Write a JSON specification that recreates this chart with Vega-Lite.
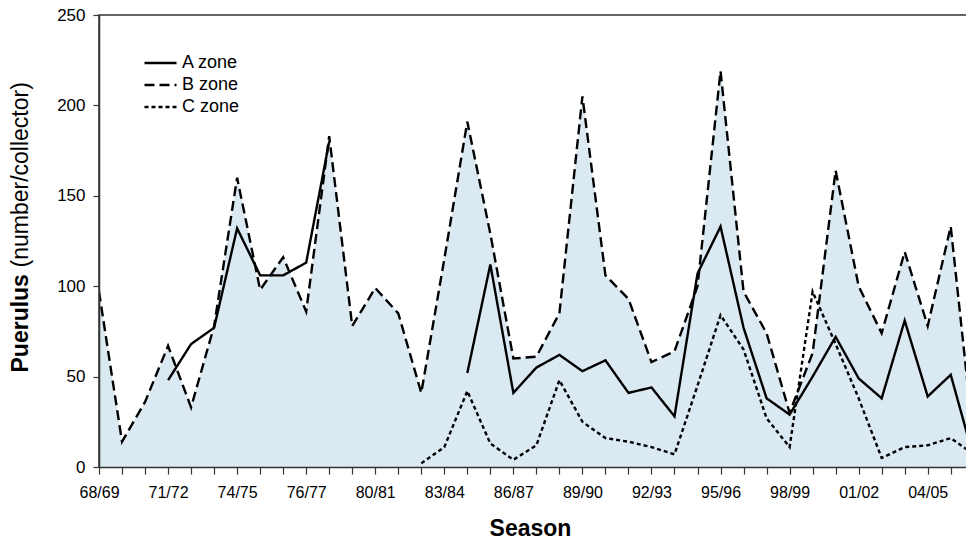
{
  "$schema": "https://vega.github.io/schema/vega-lite/v6.json",
  "width": 869,
  "height": 452,
  "autosize": "none",
  "padding": {"left": 99, "top": 15, "right": 0, "bottom": 78},
  "background": "white",
  "config": {
    "font": "Liberation Sans",
    "view": {"stroke": "#333333", "strokeWidth": 1.5},
    "axis": {"grid": false, "domainColor": "#333333", "domainWidth": 1.5, "tickColor": "#333333", "tickWidth": 1.2, "labelColor": "#000000", "titleColor": "#000000", "labelFont": "Liberation Sans", "titleFont": "Liberation Sans"}
  },
  "datasets": {
    "puerulus": [
      {"idx": 0, "zone": "B zone", "value": 97},
      {"idx": 1, "zone": "B zone", "value": 14},
      {"idx": 2, "zone": "B zone", "value": 36},
      {"idx": 3, "zone": "B zone", "value": 67},
      {"idx": 4, "zone": "B zone", "value": 33},
      {"idx": 5, "zone": "B zone", "value": 78},
      {"idx": 6, "zone": "B zone", "value": 160},
      {"idx": 7, "zone": "B zone", "value": 98},
      {"idx": 8, "zone": "B zone", "value": 116},
      {"idx": 9, "zone": "B zone", "value": 86},
      {"idx": 10, "zone": "B zone", "value": 183},
      {"idx": 11, "zone": "B zone", "value": 78},
      {"idx": 12, "zone": "B zone", "value": 99},
      {"idx": 13, "zone": "B zone", "value": 85},
      {"idx": 14, "zone": "B zone", "value": 41},
      {"idx": 15, "zone": "B zone", "value": 115},
      {"idx": 16, "zone": "B zone", "value": 191},
      {"idx": 17, "zone": "B zone", "value": 129},
      {"idx": 18, "zone": "B zone", "value": 60},
      {"idx": 19, "zone": "B zone", "value": 61},
      {"idx": 20, "zone": "B zone", "value": 85},
      {"idx": 21, "zone": "B zone", "value": 205},
      {"idx": 22, "zone": "B zone", "value": 106},
      {"idx": 23, "zone": "B zone", "value": 93},
      {"idx": 24, "zone": "B zone", "value": 58},
      {"idx": 25, "zone": "B zone", "value": 64},
      {"idx": 26, "zone": "B zone", "value": 100},
      {"idx": 27, "zone": "B zone", "value": 219},
      {"idx": 28, "zone": "B zone", "value": 97},
      {"idx": 29, "zone": "B zone", "value": 74},
      {"idx": 30, "zone": "B zone", "value": 30},
      {"idx": 31, "zone": "B zone", "value": 63},
      {"idx": 32, "zone": "B zone", "value": 164},
      {"idx": 33, "zone": "B zone", "value": 100},
      {"idx": 34, "zone": "B zone", "value": 74},
      {"idx": 35, "zone": "B zone", "value": 119},
      {"idx": 36, "zone": "B zone", "value": 78},
      {"idx": 37, "zone": "B zone", "value": 133},
      {"idx": 38, "zone": "B zone", "value": 14},
      {"idx": 3, "zone": "A zone", "value": 48},
      {"idx": 4, "zone": "A zone", "value": 68},
      {"idx": 5, "zone": "A zone", "value": 77},
      {"idx": 6, "zone": "A zone", "value": 132},
      {"idx": 7, "zone": "A zone", "value": 106},
      {"idx": 8, "zone": "A zone", "value": 106},
      {"idx": 9, "zone": "A zone", "value": 113},
      {"idx": 10, "zone": "A zone", "value": 180},
      {"idx": 11, "zone": "A zone", "value": null},
      {"idx": 12, "zone": "A zone", "value": null},
      {"idx": 13, "zone": "A zone", "value": null},
      {"idx": 14, "zone": "A zone", "value": null},
      {"idx": 15, "zone": "A zone", "value": null},
      {"idx": 16, "zone": "A zone", "value": 52},
      {"idx": 17, "zone": "A zone", "value": 112},
      {"idx": 18, "zone": "A zone", "value": 41},
      {"idx": 19, "zone": "A zone", "value": 55},
      {"idx": 20, "zone": "A zone", "value": 62},
      {"idx": 21, "zone": "A zone", "value": 53},
      {"idx": 22, "zone": "A zone", "value": 59},
      {"idx": 23, "zone": "A zone", "value": 41},
      {"idx": 24, "zone": "A zone", "value": 44},
      {"idx": 25, "zone": "A zone", "value": 28},
      {"idx": 26, "zone": "A zone", "value": 107},
      {"idx": 27, "zone": "A zone", "value": 133},
      {"idx": 28, "zone": "A zone", "value": 77},
      {"idx": 29, "zone": "A zone", "value": 38},
      {"idx": 30, "zone": "A zone", "value": 29},
      {"idx": 31, "zone": "A zone", "value": 50},
      {"idx": 32, "zone": "A zone", "value": 72},
      {"idx": 33, "zone": "A zone", "value": 49},
      {"idx": 34, "zone": "A zone", "value": 38},
      {"idx": 35, "zone": "A zone", "value": 81},
      {"idx": 36, "zone": "A zone", "value": 39},
      {"idx": 37, "zone": "A zone", "value": 51},
      {"idx": 38, "zone": "A zone", "value": 5},
      {"idx": 14, "zone": "C zone", "value": 2},
      {"idx": 15, "zone": "C zone", "value": 11},
      {"idx": 16, "zone": "C zone", "value": 42},
      {"idx": 17, "zone": "C zone", "value": 13},
      {"idx": 18, "zone": "C zone", "value": 4},
      {"idx": 19, "zone": "C zone", "value": 12},
      {"idx": 20, "zone": "C zone", "value": 48},
      {"idx": 21, "zone": "C zone", "value": 25},
      {"idx": 22, "zone": "C zone", "value": 16},
      {"idx": 23, "zone": "C zone", "value": 14},
      {"idx": 24, "zone": "C zone", "value": 11},
      {"idx": 25, "zone": "C zone", "value": 7},
      {"idx": 26, "zone": "C zone", "value": 45},
      {"idx": 27, "zone": "C zone", "value": 84},
      {"idx": 28, "zone": "C zone", "value": 65},
      {"idx": 29, "zone": "C zone", "value": 27},
      {"idx": 30, "zone": "C zone", "value": 11},
      {"idx": 31, "zone": "C zone", "value": 97},
      {"idx": 32, "zone": "C zone", "value": 68},
      {"idx": 33, "zone": "C zone", "value": 38},
      {"idx": 34, "zone": "C zone", "value": 5},
      {"idx": 35, "zone": "C zone", "value": 11},
      {"idx": 36, "zone": "C zone", "value": 12},
      {"idx": 37, "zone": "C zone", "value": 16},
      {"idx": 38, "zone": "C zone", "value": 7}
    ]
  },
  "data": {"name": "puerulus"},
  "encoding": {
    "x": {
      "field": "idx",
      "type": "quantitative",
      "scale": {"domain": [0, 37.75], "nice": false, "zero": false},
      "axis": {
        "values": [0,1,2,3,4,5,6,7,8,9,10,11,12,13,14,15,16,17,18,19,20,21,22,23,24,25,26,27,28,29,30,31,32,33,34,35,36,37],
        "labelExpr": "['68/69','','','71/72','','','74/75','','','76/77','','','80/81','','','83/84','','','86/87','','','89/90','','','92/93','','','95/96','','','98/99','','','01/02','','','04/05','',''][datum.value]",
        "tickSize": 7,
        "labelFontSize": 16,
        "labelPadding": 10,
        "labelFlush": false,
        "labelOverlap": false,
        "title": "Season",
        "titleFontSize": 23,
        "titleFontWeight": "bold",
        "titleX": 431,
        "titleY": 61,
        "titleAlign": "center",
        "titleBaseline": "middle",
        "zindex": 1
      }
    }
  },
  "layer": [
    {
      "transform": [{"filter": "datum.zone === 'B zone'"}],
      "mark": {"type": "area", "color": "#dae9f2", "clip": true},
      "encoding": {
        "y": {
          "field": "value",
          "type": "quantitative",
          "scale": {"domain": [0, 250], "nice": false},
          "axis": {
            "orient": "left",
            "values": [0, 50, 100, 150, 200, 250],
            "tickSize": 6,
            "labelFontSize": 17,
            "labelPadding": 8,
            "title": "Puerulus",
            "titleFontSize": 23,
            "titleFontWeight": "bold",
            "titleAngle": 270,
            "titleAlign": "left",
            "titleBaseline": "middle",
            "titleX": -79,
            "titleY": 357,
            "zindex": 1
          }
        }
      }
    },
    {
      "mark": {"type": "line", "color": "black", "strokeWidth": 2.4, "clip": true, "invalid": "break-paths-show-domains"},
      "encoding": {
        "y": {
          "field": "value",
          "type": "quantitative",
          "scale": {"domain": [0, 250], "nice": false},
          "axis": {
            "orient": "left",
            "labels": false,
            "ticks": false,
            "domain": false,
            "title": "(number/collector)",
            "titleFontSize": 23,
            "titleFontWeight": "normal",
            "titleAngle": 270,
            "titleAlign": "left",
            "titleBaseline": "middle",
            "titleX": -79,
            "titleY": 252
          }
        },
        "strokeDash": {
          "field": "zone",
          "type": "nominal",
          "scale": {"domain": ["A zone", "B zone", "C zone"], "range": [[1, 0], [10, 5], [4, 3]]},
          "legend": {
            "title": null,
            "orient": "none",
            "legendX": 44,
            "legendY": 37,
            "symbolType": "stroke",
            "symbolSize": 1024,
            "symbolStrokeWidth": 2.5,
            "symbolStrokeColor": "black",
            "labelFontSize": 18,
            "labelOffset": 4,
            "clipHeight": 22,
            "padding": 0,
            "rowPadding": 0
          }
        }
      }
    }
  ],
  "resolve": {"axis": {"y": "independent"}}
}
